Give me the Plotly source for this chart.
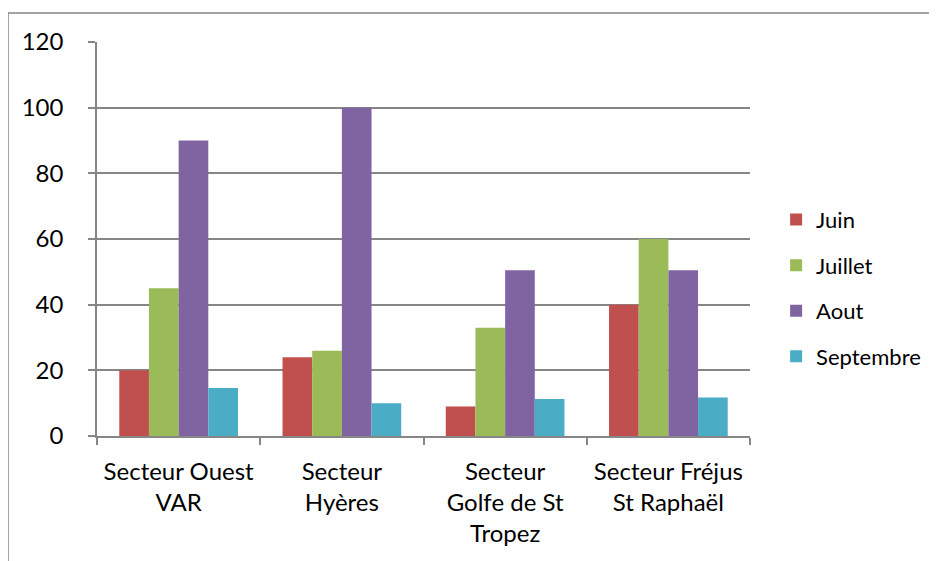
import plotly.graph_objects as go

categories = ["Secteur Ouest<br>VAR", "Secteur<br>Hyères", "Secteur<br>Golfe de St<br>Tropez", "Secteur Fréjus<br>St Raphaël"]
juin = [20, 24, 9, 40]
juillet = [45, 26, 33, 60]
aout = [90, 100, 50.5, 50.5]
septembre = [14.6, 10, 11.3, 11.7]
series_names = ["Juin", "Juillet", "Aout", "Septembre"]
colors = ["#C0504D", "#9BBB59", "#8064A2", "#4BACC6"]
y_ticks = [0, 20, 40, 60, 80, 100, 120]

FONT = "Lato"
fig = go.Figure()
for i, (name, vals) in enumerate(zip(series_names, [juin, juillet, aout, septembre])):
    fig.add_trace(go.Bar(x=categories, y=vals, name=name, marker_color=colors[i],
                         marker_line_width=0, legendgroup=name))

grey = "#868686"
fig.update_layout(
    width=929, height=553,
    margin=dict(l=89, r=187, t=34, b=125, autoexpand=False),
    paper_bgcolor="white", plot_bgcolor="white",
    barmode="group", bargap=0.273, bargroupgap=0,
    font=dict(family=FONT, size=24, color="black"),
    legend=dict(x=1.04, y=0.375, xanchor="left", yanchor="middle",
                font=dict(size=22), tracegroupgap=14, itemwidth=30),
    showlegend=True,
)
fig.update_yaxes(range=[0, 120], tickvals=y_ticks, showgrid=True, gridcolor=grey, gridwidth=1.5,
                 showline=True, linecolor=grey, linewidth=1.5, ticks="outside", ticklen=7,
                 tickcolor=grey, tickwidth=1.5, zeroline=False, ticklabelstandoff=20,
                 tickfont=dict(size=24), automargin=False)
fig.update_xaxes(showline=True, linecolor=grey, linewidth=1.5, ticks="outside", ticklen=7,
                 tickcolor=grey, tickwidth=1.5, tickson="boundaries", ticklabelstandoff=13,
                 tickfont=dict(size=24), automargin=False)
fig.add_shape(type="rect", xref="paper", yref="paper", x0=-0.1363, x1=1.6, y0=-0.6, y1=1.0736,
              line=dict(color=grey, width=1.5), layer="below")
fig.write_html("out.html")
